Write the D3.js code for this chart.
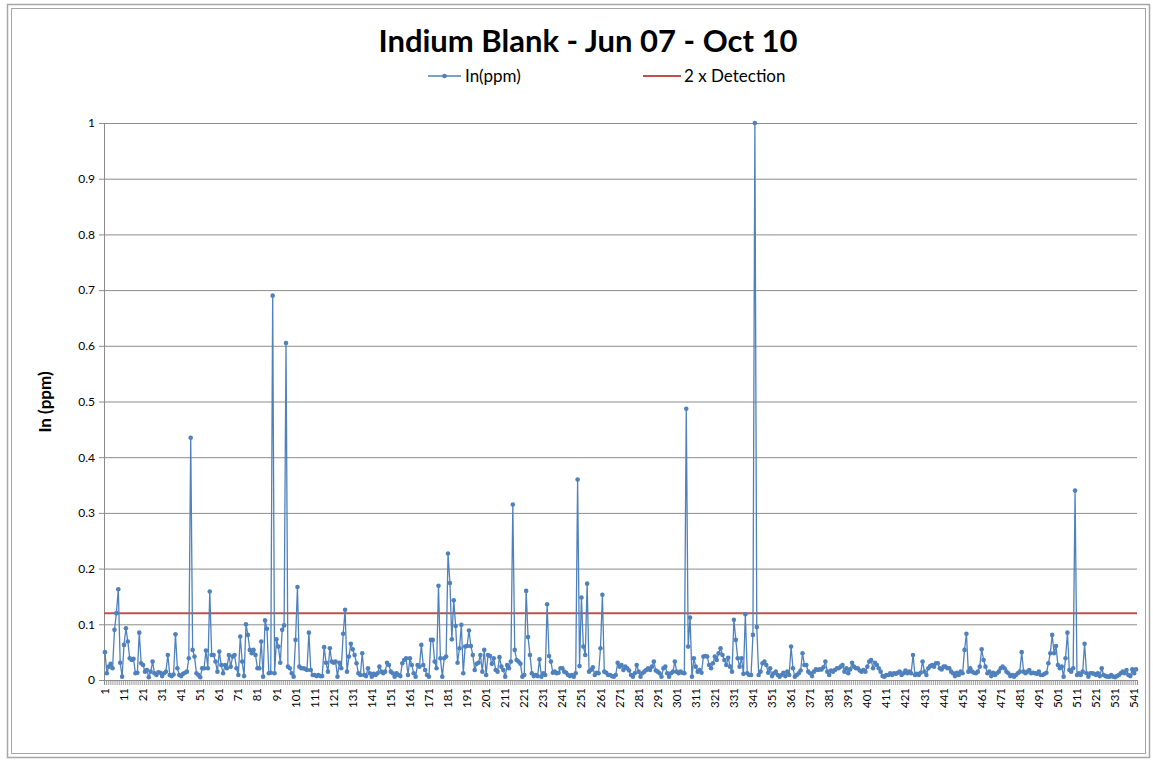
<!DOCTYPE html>
<html><head><meta charset="utf-8">
<script src="https://cdnjs.cloudflare.com/ajax/libs/d3/7.8.5/d3.min.js"></script>
<style>body{margin:0;background:#fff;} svg{display:block;}</style>
</head><body><svg id="c" width="1153" height="760"></svg>
<script>
const chartTitle = "Indium Blank - Jun 07 - Oct 10";
const seriesName = "In(ppm)";
const limitName = "2 x Detection";
const yAxisTitle = "In (ppm)";
const detectionLimit = 0.12;
const yTicks = [0, 0.1, 0.2, 0.3, 0.4, 0.5, 0.6, 0.7, 0.8, 0.9, 1];
const inPpm = [
0.05,0.012,0.024,0.029,0.021,0.09,0.12,0.163,0.031,0.006,
0.063,0.093,0.069,0.039,0.036,0.038,0.012,0.013,0.085,0.03,
0.027,0.015,0.018,0.005,0.015,0.033,0.012,0.009,0.014,0.013,
0.007,0.012,0.015,0.045,0.009,0.007,0.01,0.082,0.021,0.009,
0.007,0.011,0.013,0.015,0.039,0.435,0.054,0.042,0.012,0.009,
0.005,0.021,
0.021,0.053,0.021,0.159,0.045,0.045,0.033,0.015,0.051,0.027,
0.012,0.027,0.021,0.045,0.024,0.042,0.045,0.021,0.009,0.078,
0.033,0.007,0.1,0.081,0.054,0.048,0.054,0.045,0.021,0.021,
0.069,0.006,0.107,0.092,0.012,0.013,0.69,0.012,0.073,0.06,
0.031,0.09,0.098,0.605,0.024,0.021,0.012,0.006,0.072,0.167,
0.024,0.021,0.021,
0.02,0.018,0.085,0.018,0.009,0.009,0.007,0.009,0.007,0.007,
0.059,0.031,0.015,0.057,0.033,0.031,0.033,0.006,0.031,0.021,
0.083,0.126,0.015,0.042,0.065,0.055,0.045,0.03,0.012,0.009,
0.048,0.009,0.007,0.021,0.012,0.006,0.011,0.009,0.012,0.024,
0.015,0.012,0.015,0.031,0.027,0.015,0.012,0.006,0.012,0.009,
0.007,0.03,0.036,0.039,0.009,
0.039,0.027,0.012,0.006,0.027,0.024,0.063,0.027,0.018,0.009,
0.006,0.072,0.072,0.033,0.021,0.169,0.039,0.006,0.039,0.042,
0.227,0.174,0.073,0.143,0.097,0.031,0.057,0.099,0.012,0.06,
0.061,0.089,0.061,0.045,0.018,0.029,0.031,0.045,0.015,0.054,
0.009,0.045,0.043,0.029,0.039,0.018,0.015,0.041,0.024,0.018,
0.006,0.027,0.021,0.033,0.315,
0.054,0.036,0.033,0.029,0.006,0.009,0.16,0.077,0.045,0.012,
0.007,0.009,0.007,0.037,0.006,0.012,0.009,0.136,0.043,0.033,
0.013,0.015,0.012,0.013,0.021,0.021,0.015,0.013,0.009,0.007,
0.009,0.006,0.012,0.36,0.025,0.148,0.06,0.045,0.173,0.015,
0.018,0.023,0.009,0.013,0.012,0.057,0.153,0.015,0.013,0.009,
0.009,0.007,0.006,0.009,0.031,0.024,
0.027,0.018,0.024,0.021,0.017,0.009,0.006,0.012,0.027,0.015,
0.006,0.012,0.015,0.018,0.021,0.018,0.024,0.033,0.017,0.015,
0.012,0.006,0.021,0.024,0.012,0.006,0.012,0.015,0.033,0.015,
0.012,0.015,0.013,0.012,0.487,0.06,0.112,0.006,0.039,0.024,
0.015,0.018,0.013,0.042,0.043,0.042,0.027,0.021,0.03,0.042,
0.036,0.048,0.057,0.045,0.036,0.027,
0.04,0.024,0.015,0.108,0.072,0.039,0.024,0.039,0.011,0.118,
0.012,0.009,0.009,0.081,1.0,0.095,0.009,0.015,0.03,0.033,
0.027,0.013,0.021,0.007,0.012,0.015,0.009,0.006,0.009,0.013,
0.007,0.015,0.009,0.06,0.021,0.006,0.009,0.012,0.017,0.048,
0.027,0.027,0.015,0.012,0.007,0.015,0.019,0.018,0.019,0.019,
0.023,0.033,0.015,0.009,0.017,
0.015,0.018,0.021,0.021,0.024,0.027,0.015,0.021,0.012,0.019,
0.031,0.024,0.021,0.021,0.017,0.015,0.018,0.015,0.024,0.033,
0.036,0.021,0.031,0.027,0.021,0.015,0.007,0.006,0.009,0.009,
0.012,0.009,0.012,0.011,0.013,0.015,0.009,0.012,0.017,0.012,
0.015,0.012,0.045,0.009,0.011,0.009,0.013,0.033,0.015,0.009,
0.021,0.025,0.027,0.024,0.03,
0.03,0.021,0.019,0.024,0.024,0.021,0.021,0.015,0.012,0.007,
0.013,0.009,0.015,0.012,0.054,0.083,0.015,0.021,0.015,0.013,
0.012,0.015,0.024,0.055,0.036,0.024,0.012,0.015,0.007,0.013,
0.009,0.012,0.015,0.021,0.024,0.021,0.015,0.012,0.007,0.009,
0.006,0.009,0.012,0.015,0.05,0.015,0.012,0.015,0.018,0.012,
0.013,0.012,0.011,0.015,
0.009,0.009,0.011,0.013,0.03,0.048,0.081,0.048,0.061,0.027,
0.021,0.024,0.006,0.039,0.085,0.018,0.015,0.021,0.34,0.009,
0.012,0.009,0.015,0.065,0.012,0.006,0.012,0.012,0.011,0.009,
0.012,0.007,0.021,0.009,0.007,0.006,0.006,0.009,0.006,0.005,
0.007,0.009,0.012,0.015,0.012,0.018,0.009,0.007,0.019,0.012,
0.019
];
const categories = d3.range(1, inPpm.length + 1);
const labelEvery = 10;

const svg = d3.select("#c");
const plot = {left: 104, right: 1137, top: 123, bottom: 680};
const font = "Lato, 'Open Sans', sans-serif";

// frame
svg.append("rect").attr("x", 7.5).attr("y", 4.5).attr("width", 1142).attr("height", 753)
  .attr("fill", "none").attr("stroke", "#a6a6a6").attr("stroke-width", 1.5);
svg.append("rect").attr("x", 11.5).attr("y", 8.5).attr("width", 1134).attr("height", 745)
  .attr("fill", "#fff").attr("stroke", "#a6a6a6").attr("stroke-width", 1);

const x = d3.scaleBand().domain(categories).range([plot.left, plot.right]);
const xEdge = d3.scaleLinear().domain([0, categories.length]).range([plot.left, plot.right]);
const y = d3.scaleLinear().domain([0, 1]).range([plot.bottom, plot.top]);
const cx = d => x(d) + x.bandwidth() / 2;

// gridlines
const grid = svg.append("g").attr("transform", `translate(${plot.left},0)`)
  .call(d3.axisLeft(y).tickValues(yTicks.slice(1)).tickSize(-(plot.right - plot.left)).tickFormat(""));
grid.select(".domain").remove();
grid.selectAll("line").attr("stroke", "#8c8c8c").attr("stroke-width", 1);

// y axis
const ya = svg.append("g").attr("transform", `translate(${plot.left},0)`)
  .call(d3.axisLeft(y).tickValues(yTicks).tickSize(5).tickPadding(4).tickFormat(d3.format("")));
ya.select(".domain").attr("stroke", "#8c8c8c");
ya.selectAll("line").attr("stroke", "#8c8c8c");
ya.selectAll("text").attr("font-family", font).attr("font-size", 12).attr("fill", "#000");

// x axis ticks (category boundaries)
const xt = svg.append("g").attr("transform", `translate(0,${plot.bottom})`)
  .call(d3.axisBottom(xEdge).tickValues(d3.range(0, categories.length + 1)).tickSize(5).tickFormat(""));
xt.select(".domain").attr("stroke", "#8c8c8c");
xt.selectAll("line").attr("stroke", "#8c8c8c").attr("stroke-width", 0.8);

// x labels
const xl = svg.append("g").attr("transform", `translate(0,${plot.bottom})`)
  .call(d3.axisBottom(x).tickValues(categories.filter(d => (d - 1) % labelEvery === 0)).tickSize(0).tickPadding(8));
xl.select(".domain").remove();
xl.selectAll("text").attr("font-family", font).attr("font-size", 11.5).attr("fill", "#000")
  .attr("transform", "rotate(-90)").attr("text-anchor", "end").attr("dy", "0.35em").attr("x", -8).attr("y", 0);

// detection line
svg.append("line").attr("x1", plot.left).attr("x2", plot.right)
  .attr("y1", y(detectionLimit)).attr("y2", y(detectionLimit))
  .attr("stroke", "#C0504D").attr("stroke-width", 2);

// series
const line = d3.line().x((d, i) => cx(categories[i])).y(d => y(d));
svg.append("path").datum(inPpm).attr("d", line).attr("fill", "none")
  .attr("stroke", "#4F81BD").attr("stroke-width", 1.3).attr("stroke-linejoin", "round");
svg.append("g").selectAll("circle").data(inPpm).join("circle")
  .attr("cx", (d, i) => cx(categories[i])).attr("cy", d => y(d)).attr("r", 2.3)
  .attr("fill", "#4F81BD");

// title
svg.append("text").attr("x", 588).attr("y", 52).attr("text-anchor", "middle")
  .attr("font-family", font).attr("font-weight", "bold").attr("font-size", 31).attr("fill", "#000")
  .text(chartTitle);

// legend
const lg = svg.append("g").attr("font-family", font).attr("font-size", 17);
lg.append("line").attr("x1", 428).attr("x2", 461).attr("y1", 76).attr("y2", 76).attr("stroke", "#4F81BD").attr("stroke-width", 1.3);
lg.append("circle").attr("cx", 444.5).attr("cy", 76).attr("r", 2.3).attr("fill", "#4F81BD");
lg.append("text").attr("x", 465).attr("y", 82).text(seriesName);
lg.append("line").attr("x1", 643).attr("x2", 681).attr("y1", 76).attr("y2", 76).attr("stroke", "#C0504D").attr("stroke-width", 2);
lg.append("text").attr("x", 684).attr("y", 82).text(limitName);

// y title
svg.append("text").attr("transform", "translate(51,402) rotate(-90)").attr("text-anchor", "middle")
  .attr("font-family", font).attr("font-weight", "bold").attr("font-size", 17).text(yAxisTitle);
</script></body></html>
